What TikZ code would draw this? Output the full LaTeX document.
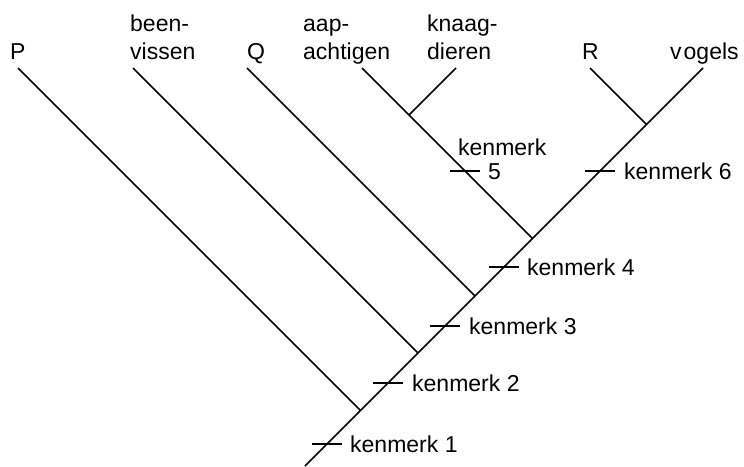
\documentclass[tikz,border=0pt]{standalone}
\usepackage{fontspec}
\setmainfont{Liberation Sans}
\begin{document}
\begin{tikzpicture}[x=1pt,y=-1pt,
  branch/.style={line width=1.6pt},
  tick/.style={line width=1.6pt},
  lbl/.style={inner sep=0pt,anchor=base west,font=\fontsize{23}{28}\selectfont},
  lbltwo/.style={lbl,align=left}]
\useasboundingbox (0,0) rectangle (744,466);
% tips and junctions
\coordinate (root) at (305,466);
\coordinate (tP) at (18,68);
\coordinate (tV) at (133,68);
\coordinate (tQ) at (247,68);
\coordinate (tA) at (362,68);
\coordinate (tK) at (456,68);
\coordinate (tR) at (590,68);
\coordinate (tG) at (703,68);
\coordinate (jP) at (360.5,410.5);
\coordinate (jV) at (418,353);
\coordinate (jQ) at (475,296);
\coordinate (jA) at (532.5,238.5);
\coordinate (jR) at (646.5,124.5);
\coordinate (jK) at (409,115);
% tick centres
\coordinate (k1) at (327,444);
\coordinate (k2) at (388,383);
\coordinate (k3) at (445.3,325.7);
\coordinate (k4) at (504.3,266.7);
\coordinate (k5) at (464.7,170.7);
\coordinate (k6) at (600.3,170.7);
% branches
\draw[branch] (root) -- (tG);
\draw[branch] (tP) -- (jP);
\draw[branch] (tV) -- (jV);
\draw[branch] (tQ) -- (jQ);
\draw[branch] (tA) -- (jA);
\draw[branch] (tK) -- (jK);
\draw[branch] (tR) -- (jR);
% ticks
\foreach \k in {k1,k2,k3,k4,k5,k6}
  \draw[tick] ([xshift=-15pt]\k) -- ([xshift=15pt]\k);
% taxon labels
\node[lbl] (lP) at (10,59) {P};
\node[lbl] (lV1) at (130,31) {been-};
\node[lbl] (lV2) at (130,59) {vissen};
\node[lbl] (lQ) at (247,59) {Q};
\node[lbl] (lA1) at (303,31) {aap-};
\node[lbl] (lA2) at (303,59) {achtigen};
\node[lbl] (lK1) at (427,31) {knaag-};
\node[lbl] (lK2) at (427,59) {dieren};
\node[lbl] (lR) at (582,59) {R};
\node[lbl] (lG) at (670,59) {v\kern2pt ogels};
% character labels
\node[lbl] (m1) at (350,452) {kenmerk 1};
\node[lbl] (m2) at (412,391) {kenmerk 2};
\node[lbl] (m3) at (469,334) {kenmerk 3};
\node[lbl] (m4) at (527,275) {kenmerk 4};
\node[lbl] (m5a) at (458,155) {kenmerk};
\node[lbl] (m5b) at (488,179) {5};
\node[lbl] (m6) at (624,179) {kenmerk 6};
\end{tikzpicture}
\end{document}
